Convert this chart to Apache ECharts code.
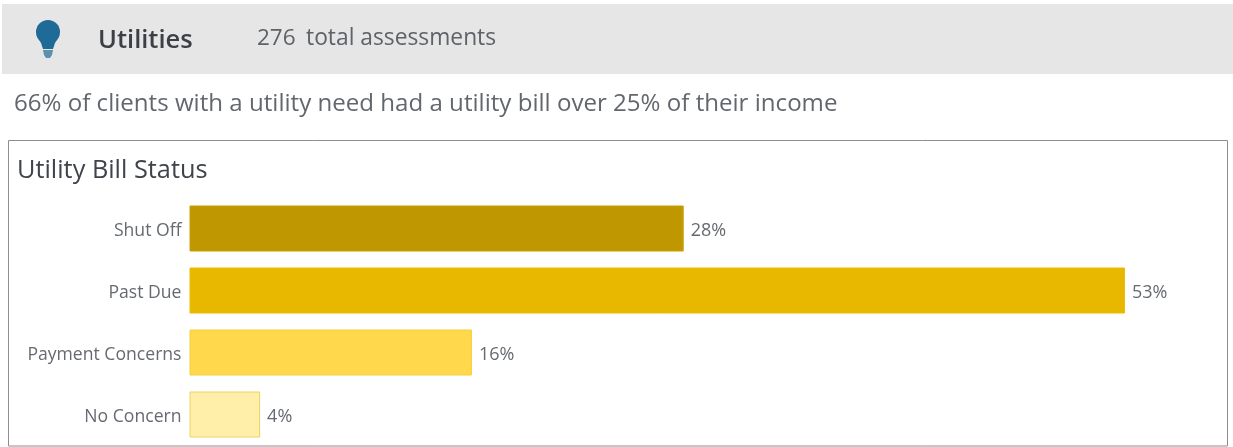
<!DOCTYPE html>
<html>
<head>
<meta charset="utf-8">
<style>
  html, body { margin: 0; padding: 0; background: #fff; }
  #chart { width: 1233px; height: 447px; }
</style>
<script src="https://cdn.jsdelivr.net/npm/echarts@6/dist/echarts.min.js"></script>
</head>
<body>
<div id="chart"></div>
<script>
const categories = ['Shut Off', 'Past Due', 'Payment Concerns', 'No Concern'];
const shares = [28, 53, 16, 4];
const barColors = ['#BF9700', '#E8B800', '#FFD84C', '#FFEFA9'];
const barEdges = ['#C9A005', '#EBBC00', '#F5CE3C', '#EBD268'];

const headerTitle = 'Utilities';
const headerCount = '276';
const headerCountText = 'total assessments';
const summary = '66% of clients with a utility need had a utility bill over 25% of their income';
const panelTitle = 'Utility Bill Status';

const FONT = '"Open Sans", "Noto Sans", sans-serif';
const chart = echarts.init(document.getElementById('chart'), null, { renderer: 'canvas' });

function label(x, y, text, size, color, weight) {
  return {
    type: 'text', x, y, silent: true,
    style: { text, fill: color, fontFamily: FONT, fontSize: size, fontWeight: weight || 400,
             verticalAlign: 'middle' }
  };
}

chart.setOption({
  animation: false,
  backgroundColor: '#ffffff',
  grid: { left: 189.5, top: 197.5, width: 1023.7, height: 248, containLabel: false },
  xAxis: { type: 'value', min: 0, max: 58, show: false },
  yAxis: {
    type: 'category',
    data: categories,
    inverse: true,
    axisLine: { show: false },
    axisTick: { show: false },
    axisLabel: {
      color: '#666a70', fontFamily: FONT, fontSize: 17.6, margin: 8,
      verticalAlign: 'top', lineHeight: 5
    }
  },
  series: [{
    type: 'bar',
    barWidth: 46,
    data: shares.map((value, i) => ({
      value,
      itemStyle: { color: barColors[i], borderColor: barEdges[i], borderWidth: 1 }
    })),
    label: {
      show: true,
      position: 'right',
      distance: 6,
      offset: [1, 2],
      formatter: '{c}%',
      color: '#666a70',
      fontFamily: FONT,
      fontSize: 18
    }
  }],
  graphic: [
    // Header band
    { type: 'rect', z: -1, silent: true, shape: { x: 2, y: 4, width: 1231, height: 70 }, style: { fill: '#E6E6E6' } },
    // Light bulb icon: glass, neck and screw base
    { type: 'circle', silent: true, shape: { cx: 48, cy: 32, r: 12 }, style: { fill: '#1F6A96' } },
    {
      type: 'polygon', silent: true,
      shape: { points: [[36.5, 35], [59.5, 35], [55, 43], [53, 49], [43, 49], [41, 43]] },
      style: { fill: '#1F6A96' }
    },
    {
      type: 'polygon', silent: true,
      shape: { points: [[43, 50], [53, 50], [52, 55], [50, 58], [46, 58], [44, 55]] },
      style: { fill: '#5E8FAE' }
    },
    label(98, 41, headerTitle, 25.5, '#3C4046', 600),
    label(257, 39, headerCount, 22.5, '#5E6268'),
    label(306, 39, headerCountText, 22.8, '#5E6268'),
    label(14, 104, summary, 24.1, '#63676D'),
    // Panel frame
    {
      type: 'rect', silent: true, z: -1,
      shape: { x: 8.5, y: 140.5, width: 1219, height: 305.5 },
      style: { fill: '#ffffff', stroke: '#8E8E8E', lineWidth: 1 }
    },
    label(17, 170.5, panelTitle, 25.3, '#3F434A')
  ]
});
</script>
</body>
</html>
